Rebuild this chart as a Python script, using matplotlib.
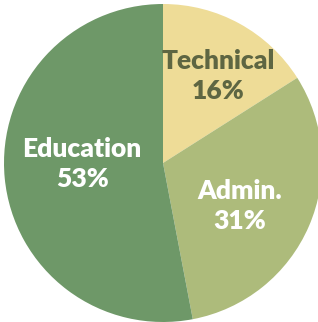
import matplotlib.pyplot as plt

# slice data, clockwise from 12 o'clock
categories = ["Technical", "Admin.", "Education"]
shares = [16, 31, 53]

colors = ["#EEDC97", "#ADBB7B", "#6E9868"]
text_colors = ["#5E6642", "white", "white"]
label_pos = [(0.346, 0.547), (0.484, -0.27), (-0.509, -0.006)]

fig = plt.figure(figsize=(3.18, 3.22), dpi=100)
ax = fig.add_axes([4 / 318, 0 / 322, 318 / 318, 318 / 322])
ax.pie(shares, colors=colors, startangle=90, counterclock=False,
       wedgeprops={"linewidth": 0})
for name, val, (x, y), tc in zip(categories, shares, label_pos, text_colors):
    ax.text(x, y, f"{name}\n{val}%", ha="center", va="center", color=tc,
            fontsize=19, fontweight="heavy", family=["Lato", "DejaVu Sans"],
            linespacing=1.3)
ax.set_xlim(-1, 1)
ax.set_ylim(-1, 1)
ax.set_aspect("equal")
ax.axis("off")
fig.savefig("out.png", dpi=100)
